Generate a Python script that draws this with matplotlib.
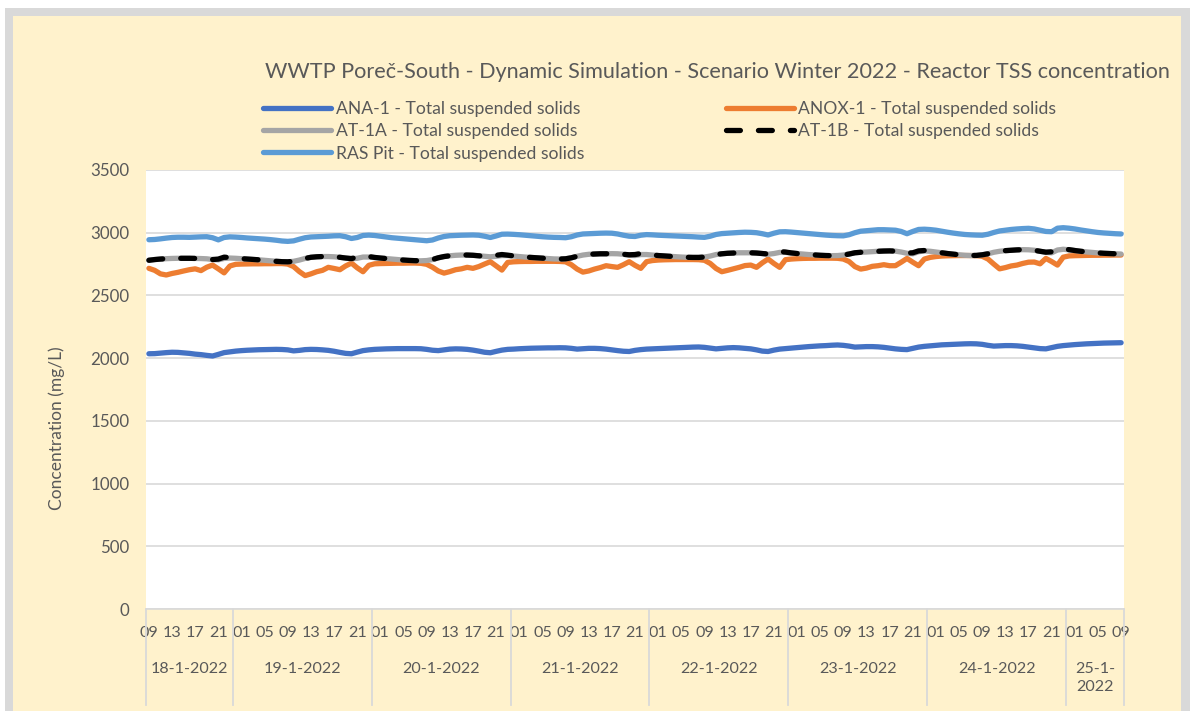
import numpy as np
import pandas as pd
import matplotlib
matplotlib.use("Agg")
import matplotlib.pyplot as plt
from matplotlib.patches import Rectangle
import matplotlib.transforms as mtransforms

plt.rcParams['font.family'] = ['Lato', 'DejaVu Sans']
plt.rcParams['lines.scale_dashes'] = False

# ---- data: hourly simulation output, 18-1-2022 09:00 .. 25-1-2022 09:00 ----
TIMES = pd.date_range('2022-01-18 09:00', '2022-01-25 09:00', freq='h')

ANA_1 = [
    2035, 2036, 2040, 2044, 2047, 2046, 2042, 2038, 2032, 2028, 2022, 2017, 2030, 2044, 2050,
    2056, 2060, 2063, 2065, 2067, 2068, 2069, 2070, 2069, 2066, 2058, 2062, 2068, 2070, 2069, 2066, 2062, 2055, 2046, 2038, 2035, 2048, 2060, 2066,
    2070, 2072, 2074, 2075, 2076, 2076, 2076, 2076, 2075, 2070, 2063, 2060, 2066, 2072, 2074, 2073, 2070, 2064, 2056, 2047, 2043, 2054, 2064, 2070,
    2072, 2075, 2077, 2079, 2080, 2081, 2082, 2082, 2083, 2082, 2078, 2072, 2075, 2078, 2078, 2076, 2072, 2066, 2060, 2055, 2053, 2062, 2068, 2072,
    2074, 2076, 2078, 2080, 2082, 2084, 2086, 2088, 2089, 2086, 2080, 2074, 2078, 2082, 2084, 2082, 2078, 2074, 2066, 2056, 2053, 2064, 2072, 2076,
    2080, 2084, 2088, 2092, 2095, 2098, 2100, 2103, 2105, 2102, 2096, 2088, 2090, 2092, 2092, 2090, 2086, 2080, 2074, 2070, 2068, 2078, 2088, 2094,
    2098, 2102, 2106, 2108, 2110, 2112, 2114, 2115, 2114, 2110, 2102, 2096, 2098, 2100, 2100, 2098, 2094, 2088, 2082, 2076, 2074, 2084, 2094, 2100,
    2104, 2108, 2111, 2114, 2116, 2118, 2120, 2121, 2122, 2123,
]

ANOX_1 = [
    2716, 2700, 2672, 2663, 2675, 2684, 2695, 2705, 2712, 2698, 2725, 2742, 2712, 2680, 2735,
    2748, 2750, 2751, 2752, 2752, 2753, 2753, 2754, 2754, 2750, 2730, 2690, 2658, 2672, 2689, 2700, 2724, 2715, 2705, 2735, 2758, 2720, 2689, 2740,
    2752, 2754, 2755, 2756, 2757, 2757, 2758, 2758, 2756, 2748, 2725, 2695, 2678, 2690, 2705, 2712, 2724, 2716, 2730, 2750, 2769, 2735, 2702, 2763,
    2768, 2770, 2771, 2771, 2772, 2772, 2772, 2772, 2771, 2768, 2745, 2710, 2686, 2695, 2710, 2722, 2737, 2730, 2724, 2745, 2769, 2740, 2716, 2769,
    2778, 2782, 2784, 2785, 2786, 2786, 2786, 2786, 2785, 2780, 2755, 2715, 2689, 2700, 2712, 2724, 2738, 2742, 2724, 2760, 2790, 2755, 2724, 2785,
    2790, 2793, 2795, 2796, 2796, 2797, 2797, 2797, 2796, 2790, 2770, 2730, 2710, 2718, 2732, 2737, 2745, 2737, 2737, 2765, 2795, 2765, 2737, 2790,
    2803, 2810, 2814, 2816, 2817, 2818, 2818, 2818, 2817, 2812, 2790, 2750, 2712, 2722, 2735, 2742, 2755, 2765, 2766, 2752, 2795, 2770, 2742, 2805,
    2815, 2817, 2818, 2819, 2820, 2820, 2821, 2821, 2822, 2822,
]

AT_1A = [
    2782, 2786, 2790, 2793, 2795, 2796, 2796, 2796, 2795, 2794, 2792, 2786, 2784, 2795, 2798,
    2796, 2793, 2790, 2787, 2784, 2780, 2776, 2772, 2769, 2768, 2772, 2782, 2795, 2804, 2808, 2810, 2810, 2808, 2804, 2798, 2792, 2796, 2806, 2806,
    2802, 2798, 2794, 2790, 2786, 2782, 2779, 2777, 2776, 2778, 2786, 2800, 2810, 2816, 2820, 2822, 2822, 2820, 2816, 2812, 2808, 2812, 2818, 2818,
    2814, 2810, 2806, 2803, 2800, 2797, 2794, 2791, 2790, 2792, 2800, 2812, 2822, 2828, 2830, 2832, 2832, 2833, 2832, 2828, 2820, 2818, 2826, 2826,
    2822, 2818, 2815, 2812, 2809, 2806, 2804, 2803, 2803, 2806, 2814, 2826, 2832, 2836, 2838, 2840, 2840, 2840, 2838, 2834, 2828, 2834, 2843, 2843,
    2838, 2834, 2830, 2826, 2823, 2820, 2818, 2817, 2818, 2822, 2830, 2840, 2844, 2846, 2849, 2852, 2854, 2855, 2853, 2846, 2836, 2832, 2848, 2855,
    2852, 2846, 2840, 2834, 2829, 2824, 2820, 2818, 2819, 2824, 2832, 2844, 2852, 2857, 2860, 2863, 2865, 2864, 2860, 2852, 2843, 2840, 2862, 2868,
    2864, 2858, 2852, 2847, 2843, 2839, 2836, 2834, 2832, 2830,
]

AT_1B = [
    2780, 2786, 2790, 2793, 2795, 2796, 2796, 2796, 2795, 2794, 2792, 2786, 2790, 2805, 2802,
    2797, 2793, 2790, 2787, 2784, 2780, 2776, 2772, 2769, 2768, 2772, 2782, 2795, 2804, 2808, 2810, 2810, 2808, 2804, 2798, 2794, 2805, 2815, 2810,
    2803, 2798, 2794, 2790, 2786, 2782, 2779, 2777, 2776, 2778, 2786, 2800, 2810, 2816, 2820, 2822, 2822, 2820, 2816, 2812, 2810, 2820, 2826, 2821,
    2815, 2810, 2806, 2803, 2800, 2797, 2794, 2791, 2790, 2792, 2800, 2812, 2822, 2828, 2830, 2832, 2832, 2833, 2832, 2828, 2824, 2826, 2834, 2829,
    2823, 2818, 2815, 2812, 2809, 2806, 2804, 2803, 2803, 2806, 2814, 2826, 2832, 2836, 2838, 2840, 2840, 2840, 2838, 2834, 2830, 2842, 2850, 2846,
    2839, 2834, 2830, 2826, 2823, 2820, 2818, 2817, 2818, 2822, 2830, 2840, 2844, 2846, 2849, 2852, 2854, 2855, 2853, 2846, 2838, 2840, 2855, 2858,
    2853, 2846, 2840, 2834, 2829, 2824, 2820, 2818, 2819, 2824, 2832, 2844, 2852, 2857, 2860, 2863, 2865, 2864, 2860, 2852, 2845, 2848, 2868, 2871,
    2865, 2858, 2852, 2847, 2843, 2839, 2836, 2834, 2832, 2830,
]

RAS_PIT = [
    2944, 2946, 2951, 2957, 2962, 2964, 2964, 2963, 2965, 2967, 2968, 2960, 2943, 2962, 2967,
    2965, 2962, 2958, 2955, 2952, 2949, 2945, 2940, 2934, 2931, 2935, 2948, 2960, 2966, 2968, 2970, 2972, 2975, 2976, 2968, 2954, 2962, 2978, 2981,
    2978, 2972, 2966, 2960, 2956, 2952, 2948, 2944, 2940, 2936, 2942, 2958, 2970, 2976, 2978, 2980, 2981, 2982, 2980, 2972, 2962, 2974, 2988, 2989,
    2987, 2984, 2980, 2976, 2972, 2968, 2965, 2963, 2962, 2960, 2968, 2982, 2990, 2992, 2994, 2996, 2997, 2996, 2990, 2980, 2972, 2970, 2980, 2985,
    2983, 2980, 2978, 2976, 2974, 2972, 2970, 2968, 2965, 2963, 2972, 2986, 2993, 2996, 2999, 3002, 3004, 3003, 3000, 2992, 2982, 2996, 3007, 3008,
    3005, 3001, 2997, 2993, 2989, 2985, 2981, 2978, 2976, 2975, 2984, 3000, 3012, 3016, 3020, 3024, 3024, 3022, 3020, 3010, 2992, 3010, 3026, 3028,
    3025, 3020, 3012, 3004, 2997, 2991, 2986, 2983, 2981, 2980, 2988, 3002, 3014, 3020, 3026, 3030, 3033, 3035, 3030, 3020, 3010, 3008, 3036, 3040,
    3036, 3030, 3022, 3015, 3008, 3002, 2998, 2995, 2992, 2990,
]

DAY_LABELS = ['18-1-2022', '19-1-2022', '20-1-2022', '21-1-2022',
              '22-1-2022', '23-1-2022', '24-1-2022', '25-1-\n2022']

SERIES = [
    ('ANA-1 - Total suspended solids', ANA_1, '#4472C4', '-'),
    ('ANOX-1 - Total suspended solids', ANOX_1, '#ED7D31', '-'),
    ('AT-1A - Total suspended solids', AT_1A, '#A5A5A5', '-'),
    ('AT-1B - Total suspended solids', AT_1B, '#000000', '--'),
    ('RAS Pit - Total suspended solids', RAS_PIT, '#5B9BD5', '-'),
]

TITLE = 'WWTP Poreč-South - Dynamic Simulation - Scenario Winter 2022 - Reactor TSS concentration'
YLABEL = 'Concentration (mg/L)'

# ---- figure ----
W, H = 1192, 711
TXT = '#595959'
GRID = '#D9D9D9'
fig = plt.figure(figsize=(W / 100, H / 100), dpi=100)
fig.patch.set_facecolor('white')

def px_rect(x0, y0, x1, y1, color):
    fig.add_artist(Rectangle((x0 / W, 1 - y1 / H), (x1 - x0) / W, (y1 - y0) / H,
                             transform=fig.transFigure, facecolor=color,
                             edgecolor='none', zorder=-10))

px_rect(5, 8, 1190, H + 5, '#D9D9D9')
px_rect(13, 16, 1181, H + 5, '#FFF2CC')

L, R, T, B = 146, 1124, 170, 609
ax = fig.add_axes([L / W, 1 - B / H, (R - L) / W, (B - T) / H])
ax.set_facecolor('white')

x = np.arange(len(TIMES))
handles = {}
for name, vals, col, ls in SERIES:
    if ls == '--':
        (ln,) = ax.plot(x, vals, color=col, lw=3.8, linestyle=(0, (10, 13)),
                        dash_capstyle='round', solid_capstyle='round', label=name)
    else:
        (ln,) = ax.plot(x, vals, color=col, lw=3.8, solid_capstyle='round',
                        solid_joinstyle='round', label=name)
    handles[name] = ln

ax.set_xlim(-0.5, len(TIMES) - 0.5)
ax.set_ylim(0, 3500)
ax.set_yticks(np.arange(0, 3501, 500))
ax.yaxis.grid(True, color=GRID, lw=1.2)
ax.set_axisbelow(True)
for s in ['left', 'right', 'top']:
    ax.spines[s].set_visible(False)
ax.spines['bottom'].set_color(GRID)
ax.spines['bottom'].set_linewidth(1.2)

tick_idx = np.arange(0, len(TIMES), 4)
ax.set_xticks(tick_idx)
ax.set_xticklabels([TIMES[i].strftime('%H') for i in tick_idx])
ax.tick_params(axis='x', length=0, pad=12, labelsize=11.6, labelcolor=TXT)
ax.tick_params(axis='y', length=0, pad=12, labelsize=12.2, labelcolor=TXT)

# day grouping below the hour labels
blend = mtransforms.blended_transform_factory(ax.transData, ax.transAxes)
days = TIMES.normalize()
starts = [0] + [i for i in range(1, len(days)) if days[i] != days[i - 1]]
edges = [s - 0.5 for s in starts] + [len(TIMES) - 0.5]
sep_bottom = -(705 - B) / (B - T)
for e in edges:
    ax.plot([e, e], [0, sep_bottom], transform=blend, color=GRID, lw=1.3,
            clip_on=False)
day_y = -(662 - B) / (B - T)
for k, lab in enumerate(DAY_LABELS):
    cx = (edges[k] + edges[k + 1]) / 2
    ax.text(cx, day_y, lab, transform=blend, ha='center', va='top',
            fontsize=11.6, color=TXT, linespacing=1.4)

ax.set_ylabel(YLABEL, fontsize=12.5, color=TXT)
ax.yaxis.set_label_coords(-(146 - 57) / (R - L), -(428 - B) / (B - T))
ax.yaxis.label.set_verticalalignment('center')

fig.text(265 / W, 1 - 72 / H, TITLE, fontsize=15.6, color=TXT, ha='left', va='center')

order = ['ANA-1 - Total suspended solids', 'AT-1A - Total suspended solids',
         'RAS Pit - Total suspended solids', 'ANOX-1 - Total suspended solids',
         'AT-1B - Total suspended solids']
fig.legend([handles[n] for n in order], order, ncol=2, frameon=False,
           loc='upper left', bbox_to_anchor=(263 / W, 1 - 101 / H),
           fontsize=12.6, handlelength=3.9, handletextpad=0.25,
           columnspacing=8.1, labelspacing=0.36, borderpad=0,
           borderaxespad=0, labelcolor=TXT)

fig.savefig('out.png', dpi=100, facecolor=fig.get_facecolor())
